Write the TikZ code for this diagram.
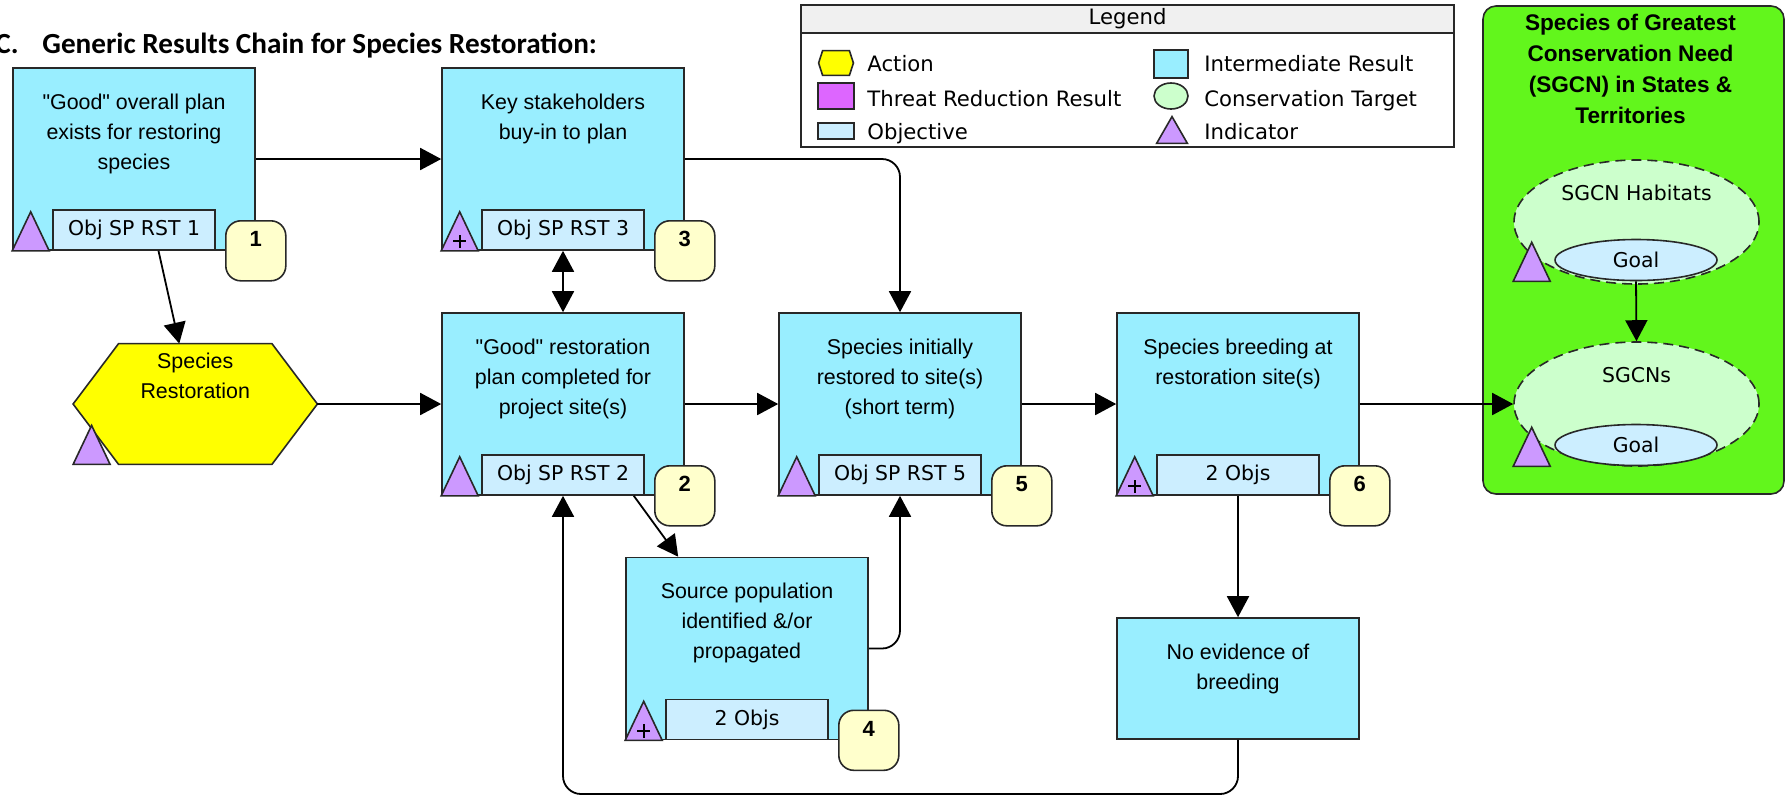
\documentclass[tikz,border=0pt]{standalone}
\usepackage{fontspec}
\setmainfont{Liberation Sans}
\newfontfamily\headfont{Carlito}
\newfontfamily\uifont{DejaVu Sans}
\usetikzlibrary{arrows.meta,calc,shapes.geometric}

\definecolor{irfill}{RGB}{153,238,255}
\definecolor{objfill}{RGB}{204,238,255}
\definecolor{indfill}{RGB}{204,153,255}
\definecolor{numfill}{RGB}{255,255,204}
\definecolor{actfill}{RGB}{255,255,0}
\definecolor{trfill}{RGB}{221,102,255}
\definecolor{ctfill}{RGB}{204,255,204}
\definecolor{panelfill}{RGB}{98,246,28}
\definecolor{legendhead}{RGB}{240,240,240}
\definecolor{edge}{RGB}{40,40,40}

% hexagon drawn on the bounding box of a (blank) node; #2 = corner inset
\newcommand{\hexof}[3]{\path[#3] (#1.west) -- ($(#1.north west)+(#2,0)$) -- ($(#1.north east)+(-#2,0)$) -- (#1.east) -- ($(#1.south east)+(-#2,0)$) -- ($(#1.south west)+(#2,0)$) -- cycle;}

\tikzset{
  result/.style={draw=edge, line width=0.8pt, fill=irfill, minimum width=121pt, minimum height=91pt, inner sep=0pt},
  smallresult/.style={result, minimum height=60.5pt},
  restext/.style={align=center, inner sep=0pt, anchor=north, font=\fontsize{10.7}{15}\selectfont},
  objbox/.style={draw=edge, line width=0.8pt, fill=objfill, minimum width=81pt, minimum height=20pt, inner sep=0pt, anchor=south, font=\uifont\fontsize{10.2}{12}\selectfont},
  numtag/.style={draw=edge, line width=0.8pt, fill=numfill, rounded corners=7.5pt, minimum width=30pt, minimum height=30pt, inner sep=0pt, text height=8pt, text depth=12pt, font=\bfseries\fontsize{11}{13}\selectfont},
  indic/.pic={\draw[draw=edge, line width=0.8pt, fill=indfill] (0pt,0pt) -- (9.25pt,19.5pt) -- (18.5pt,0pt) -- cycle;},
  indicplus/.pic={\draw[draw=edge, line width=0.8pt, fill=indfill] (0pt,0pt) -- (9.25pt,19.5pt) -- (18.5pt,0pt) -- cycle;
                  \draw[line width=1pt] (5.9pt,4.7pt) -- (12.6pt,4.7pt) (9.25pt,1.4pt) -- (9.25pt,8pt);},
  target/.style={ellipse, draw=edge, dashed, dash pattern=on 5pt off 3pt, line width=0.8pt, fill=ctfill, minimum width=122.5pt, minimum height=62pt, inner sep=0pt},
  goal/.style={ellipse, draw=edge, line width=0.8pt, fill=objfill, minimum width=81pt, minimum height=20.5pt, inner sep=0pt, font=\uifont\fontsize{10.2}{12}\selectfont},
  tgtext/.style={inner sep=0pt, font=\uifont\fontsize{10.2}{12}\selectfont},
  legtext/.style={anchor=base west, inner sep=0pt, font=\uifont\fontsize{10.6}{12}\selectfont},
  legicon/.style={draw=edge, line width=0.8pt, inner sep=0pt},
  link/.style={draw=black, line width=0.9pt, -{Triangle[length=10.5pt,width=11pt]}, rounded corners=9pt},
  twoway/.style={draw=black, line width=0.9pt, {Triangle[length=10.5pt,width=11pt]}-{Triangle[length=10.5pt,width=11pt]}},
}

\begin{document}
\begin{tikzpicture}[x=0.5pt, y=-0.5pt]
\useasboundingbox (0,0) rectangle (1786,800);

% heading
\node[anchor=base east, inner sep=0pt, font=\headfont\bfseries\fontsize{14.6}{17}\selectfont] (headc) at (19,53) {C.};
\node[anchor=base west, inner sep=0pt, font=\headfont\bfseries\fontsize{14.6}{17}\selectfont] (headt) at (42,53) {Generic Results Chain for Species Restoration:};

% legend
\node[draw=edge, line width=0.8pt, fill=white, minimum width=326.5pt, minimum height=71pt, inner sep=0pt] (legend) at (1127.5,76) {};
\node[draw=edge, line width=0.8pt, fill=legendhead, minimum width=326.5pt, minimum height=14pt, inner sep=0pt, anchor=north, font=\uifont\fontsize{10.6}{12}\selectfont] (leghead) at (legend.north) {Legend};
\node[minimum width=17pt, minimum height=12pt, inner sep=0pt] (ic1) at (836,63) {};
\hexof{ic1}{4}{draw=edge, line width=0.8pt, fill=actfill}
\node[legtext] (lt1) at (867,71) {Action};
\node[legicon, fill=trfill, minimum width=18pt, minimum height=13pt] (ic2) at (836,96) {};
\node[legtext] (lt2) at (867,106) {Threat Reduction Result};
\node[legicon, fill=objfill, minimum width=18pt, minimum height=8pt] (ic3) at (836,131) {};
\node[legtext] (lt3) at (867,139) {Objective};
\node[legicon, fill=irfill, minimum width=17pt, minimum height=14pt] (ic4) at (1171,64) {};
\node[legtext] (lt4) at (1204,71) {Intermediate Result};
\node[legicon, ellipse, fill=ctfill, minimum width=17pt, minimum height=13pt] (ic5) at (1171,96) {};
\node[legtext] (lt5) at (1204,106) {Conservation Target};
\node[minimum width=15pt, minimum height=13pt, inner sep=0pt] (ic6) at (1172,130) {};
\draw[draw=edge, line width=0.8pt, fill=indfill] (ic6.south west) -- (ic6.north) -- (ic6.south east) -- cycle;
\node[legtext] (lt6) at (1204,139) {Indicator};

% SGCN panel
\node[draw=edge, line width=0.8pt, fill=panelfill, rounded corners=6.5pt, minimum width=150.5pt, minimum height=244pt, inner sep=0pt] (panel) at (1633.5,250) {};
\node[align=center, inner sep=0pt, anchor=north, font=\bfseries\fontsize{11.3}{15.4}\selectfont] (panelt) at ($(panel.north)+(-3,9)$) {Species of Greatest\\Conservation Need\\(SGCN) in States \&\\Territories};
\node[target] (e1) at (1636.5,222) {};
\node[tgtext] (e1t) at ($(e1.north)+(0,33.3)$) {SGCN Habitats};
\node[goal] (g1) at (1636,260) {Goal};
\pic at (e1.west |- g1.south) {indic};
\node[target] (e2) at (1636.5,404) {};
\node[tgtext] (e2t) at ($(e2.north)+(0,34)$) {SGCNs};
\node[goal] (g2) at (1636,445) {Goal};
\pic at (e2.west |- g2.south) {indic};

% action
\node[minimum width=121.75pt, minimum height=60pt, inner sep=0pt] (hex) at (195.25,404) {};
\hexof{hex}{45.5}{draw=edge, line width=0.8pt, fill=actfill}
\node[restext] (hext) at ($(hex.north)+(0,9)$) {Species\\Restoration};
\pic at (hex.south west) {indic};

% results
\node[result] (b1) at (134,159) {};
\node[restext] (b1t) at ($(b1.north)+(0,26)$) {\textquotedbl Good\textquotedbl{} overall plan\\exists for restoring\\species};
\node[objbox] (o1) at (b1.south) {Obj SP RST 1};
\pic at (b1.south west) {indic};
\node[numtag] (n1) at (b1.south east) {1};

\node[result] (b3) at (563,159) {};
\node[restext] (b3t) at ($(b3.north)+(0,26)$) {Key stakeholders\\buy-in to plan};
\node[objbox] (o3) at (b3.south) {Obj SP RST 3};
\pic at (b3.south west) {indicplus};
\node[numtag] (n3) at (b3.south east) {3};

\node[result] (b2) at (563,404) {};
\node[restext] (b2t) at ($(b2.north)+(0,26)$) {\textquotedbl Good\textquotedbl{} restoration\\plan completed for\\project site(s)};
\node[objbox] (o2) at (b2.south) {Obj SP RST 2};
\pic at (b2.south west) {indic};
\node[numtag] (n2) at (b2.south east) {2};

\node[result] (b5) at (900,404) {};
\node[restext] (b5t) at ($(b5.north)+(0,26)$) {Species initially\\restored to site(s)\\(short term)};
\node[objbox] (o5) at (b5.south) {Obj SP RST 5};
\pic at (b5.south west) {indic};
\node[numtag] (n5) at (b5.south east) {5};

\node[result] (b6) at (1238,404) {};
\node[restext] (b6t) at ($(b6.north)+(0,26)$) {Species breeding at\\restoration site(s)};
\node[objbox] (o6) at (b6.south) {2 Objs};
\pic at (b6.south west) {indicplus};
\node[numtag] (n6) at (b6.south east) {6};

\node[result] (b4) at (747,648.5) {};
\node[restext] (b4t) at ($(b4.north)+(0,26)$) {Source population\\identified \&/or\\propagated};
\node[objbox] (o4) at (b4.south) {2 Objs};
\pic at (b4.south west) {indicplus};
\node[numtag] (n4) at (b4.south east) {4};

\node[smallresult] (b7) at (1238,678.5) {};
\node[restext] (b7t) at ($(b7.north)+(0,26)$) {No evidence of\\breeding};

% links
\draw[link] (b1.east) -- (b3.west);
\draw[link] ($(o1.south)+(24.5,0)$) -- ($(hex.north)+(-16,0)$);
\draw[link] (b3.east) -| (b5.north);
\draw[twoway] (o3.south) -- (b2.north);
\draw[link] (hex.east) -- (b2.west);
\draw[link] (b2.east) -- (b5.west);
\draw[link] ($(o2.south east)+(-11,0)$) -- ($(b4.north west)+(53,0)$);
\draw[link] (b4.east) -| (o5.south);
\draw[link] (b5.east) -- (b6.west);
\draw[link] (o6.south) -- (b7.north);
\coordinate (loopbase) at (900,794);
\draw[link] (b7.south) -- (b7.south |- loopbase) -| (o2.south);
\draw[link] (b6.east) -- (e2.west);
\draw[link] (g1.south) -- (e2.north);
\end{tikzpicture}
\end{document}
